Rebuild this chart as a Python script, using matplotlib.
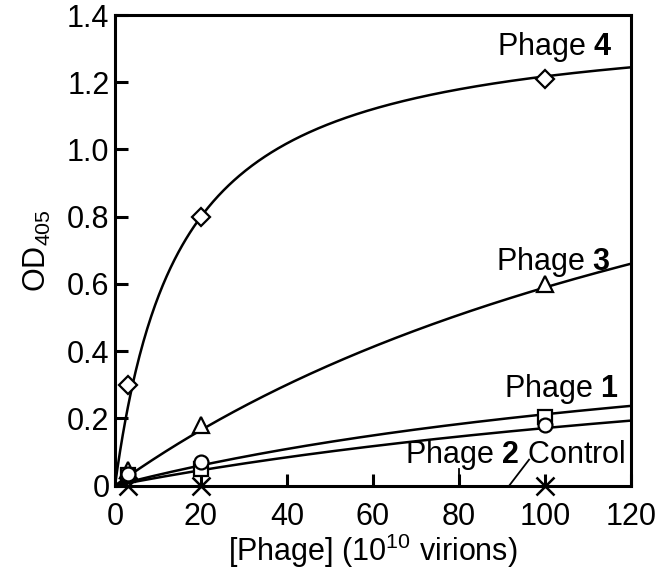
import numpy as np
import matplotlib
matplotlib.use('Agg')
import matplotlib.pyplot as plt

plt.rcParams['font.family'] = ['Liberation Sans', 'DejaVu Sans']
plt.rcParams['mathtext.fontset'] = 'custom'
plt.rcParams['mathtext.rm'] = 'Liberation Sans'
plt.rcParams['mathtext.it'] = 'Liberation Sans:italic'
plt.rcParams['mathtext.bf'] = 'Liberation Sans:bold'

#Data
phage_x   = [3, 20, 100]
phage4_y  = [0.30, 0.80, 1.21]
phage3_y  = [0.045, 0.18, 0.60]
phage1_y  = [0.03, 0.05, 0.205]
phage2_y  = [0.035, 0.07, 0.18]
control_y = [0.0, 0.0, 0.0]

#Saturation fit parameters y = Bmax*x/(Kd+x)
fit_bmax = {'4': 1.40, '3': 1.65, '1': 0.578, '2': 0.552}
fit_kd   = {'4': 15.0, '3': 180.0, '1': 172.7, '2': 222.9}

xfit = np.linspace(0, 120, 400)

fig = plt.figure(figsize=(6.67, 5.78), dpi=100)
ax = fig.add_axes([0.1724, 0.16, 0.7736, 0.814])

for k in ['4', '3', '1', '2']:
    ax.plot(xfit, fit_bmax[k]*xfit/(fit_kd[k]+xfit), color='k', lw=1.8, zorder=2)

mk = dict(ls='none', mfc='white', mec='k', mew=1.6, clip_on=False, zorder=3)
ax.plot(phage_x, phage4_y, marker='D', ms=9, **mk)
ax.plot(phage_x, phage3_y, marker='^', ms=11, **mk)
ax.plot(phage_x, phage1_y, marker='s', ms=10, **mk)
ax.plot(phage_x, phage2_y, marker='o', ms=10, **mk)
ax.plot(phage_x, control_y, marker='x', ms=13, ls='none', color='k', mew=1.8,
        clip_on=False, zorder=3)

#Curve labels
fs = 22
ax.text(115.6, 1.305, r'Phage $\mathbf{4}$', ha='right', va='center', fontsize=fs)
ax.text(115.2, 0.665, r'Phage $\mathbf{3}$', ha='right', va='center', fontsize=fs)
ax.text(117.2, 0.287, r'Phage $\mathbf{1}$', ha='right', va='center', fontsize=fs)
ax.text(118.6, 0.092, r'Phage $\mathbf{2}$ Control', ha='right', va='center', fontsize=fs)
ax.plot([80, 80], [0, 0.048], color='k', lw=1.3)
ax.plot([91.7, 96.3], [0, 0.077], color='k', lw=1.3)

ax.set_xlim(0, 120)
ax.set_ylim(0, 1.4)
ax.set_xticks([0, 20, 40, 60, 80, 100, 120])
ax.set_yticks([0, 0.2, 0.4, 0.6, 0.8, 1.0, 1.2, 1.4])
ax.set_yticklabels(['0', '0.2', '0.4', '0.6', '0.8', '1.0', '1.2', '1.4'])
ax.tick_params(direction='in', length=9, width=2.2, labelsize=fs)
ax.tick_params(axis='x', pad=12)
ax.tick_params(axis='y', pad=4)
for s in ax.spines.values():
    s.set_linewidth(2.2)

ax.set_xlabel(r'[Phage] (10$^{10}$ virions)', fontsize=fs, labelpad=0)
ax.set_ylabel(r'OD$_{405}$', fontsize=fs, labelpad=10)

plt.savefig('out.png', dpi=100)
